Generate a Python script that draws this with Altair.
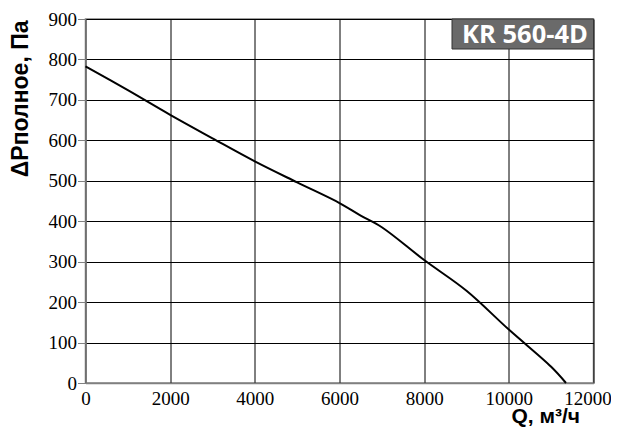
import altair as alt
import pandas as pd

# Fan curve KR 560-4D
q_values = [0, 1000, 2000, 3000, 4000, 5000, 6000, 6500, 7000, 8000, 9000, 10000, 11000, 11350]
p_values = [783, 724, 663, 605, 548, 496, 445, 414, 385, 304, 228, 132, 40, 0]
x_ticks = [0, 2000, 4000, 6000, 8000, 10000, 12000]
y_ticks = [0, 100, 200, 300, 400, 500, 600, 700, 800, 900]
label_text = ["KR 560-4D"]

df = pd.DataFrame({"Q": q_values, "P": p_values})
lab = pd.DataFrame({"t": label_text})

W, H = 508, 364
LABEL_FONT = "Liberation Sans Narrow"

line = alt.Chart(df).mark_line(color="black", strokeWidth=2, interpolate="catmull-rom").encode(
    x=alt.X("Q:Q",
            scale=alt.Scale(domain=[0, 12000], nice=False, zero=False),
            axis=alt.Axis(values=x_ticks, title="Q, м³/ч", grid=True, gridColor="black",
                          gridWidth=1, gridOpacity=1, ticks=False, labelPadding=6,
                          labelFont=LABEL_FONT, labelFontSize=19, labelColor="black",
                          labelOffset={"condition": {"test": "datum.value == 12000", "value": -6},
                                       "value": 0},
                          domainColor="#808080", domainWidth=1.5,
                          titleFont="Liberation Sans", titleFontSize=21, titleFontWeight="bold",
                          titleColor="black", titleAlign="right",
                          titleX=W - 14, titleY=39, titleBaseline="alphabetic",
                          format="d", labelFlush=False)),
    y=alt.Y("P:Q",
            scale=alt.Scale(domain=[0, 900], nice=False, zero=False),
            axis=alt.Axis(values=y_ticks, title="ΔPполное, Па", grid=True, gridColor="black",
                          gridWidth=1, gridOpacity=1, tickSize=8, tickColor="#808080",
                          labelPadding=1, labelFont=LABEL_FONT, labelFontSize=19,
                          labelColor="black", domainColor="#808080", domainWidth=1.5,
                          titleFont="Liberation Sans", titleFontSize=23, titleFontWeight="bold",
                          titleColor="black", titleAngle=270, titleAlign="right",
                          titleBaseline="middle", titleX=-65.5, titleY=1,
                          format="d", labelFlush=False)),
)

box = alt.Chart(lab).mark_rect(color="#6a6a6a", stroke="#333333", strokeWidth=1).encode(
    x=alt.value(366.5), x2=alt.value(508), y=alt.value(0), y2=alt.value(30)
)

txt = alt.Chart(lab).mark_text(color="white", font="Open Sans", fontSize=25.5, fontWeight="bold",
                               align="center", baseline="middle").encode(
    x=alt.value(439.5), y=alt.value(15.5), text="t:N"
)

chart = alt.layer(line, box, txt).properties(
    width=W, height=H,
    autosize=alt.AutoSizeParams(type="none"),
    padding={"left": 77.5, "top": 11, "right": 17, "bottom": 45},
).configure_view(stroke="#808080", strokeWidth=1.5)

chart.save("out.html", embed_options={"renderer": "svg", "actions": False})
